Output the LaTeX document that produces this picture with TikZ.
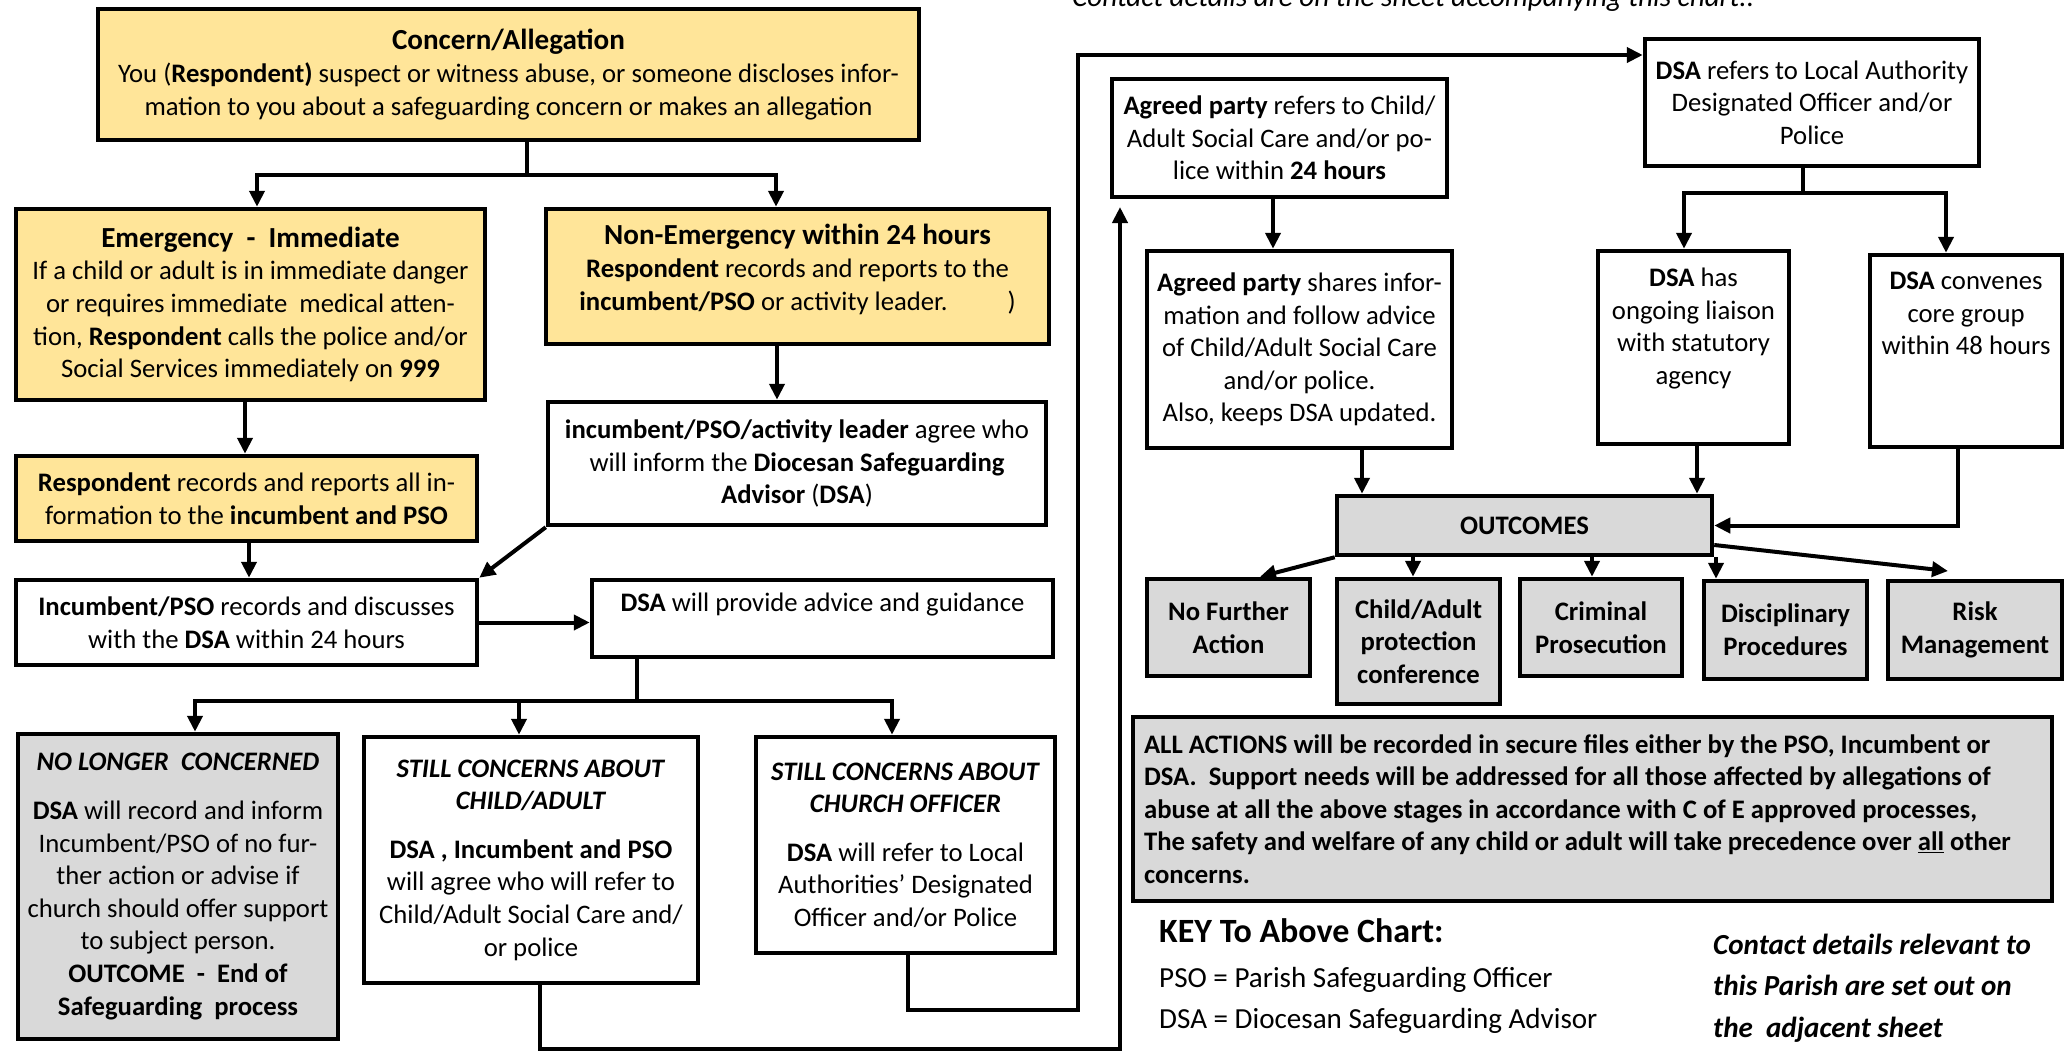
\documentclass[tikz,border=0pt]{standalone}
\usepackage{fontspec}
\setmainfont{Carlito}
\usetikzlibrary{arrows.meta}

\definecolor{concernyellow}{HTML}{FFE599}
\definecolor{outcomegrey}{HTML}{D9D9D9}

\newcommand{\bodysize}{\fontsize{26.7}{32.6}\selectfont}
\newcommand{\headsize}{\fontsize{29.1}{35.5}\selectfont}
\newcommand{\keysize}{\fontsize{34}{41}\selectfont}

\tikzset{
  chartbox/.style={draw, line width=4.5pt, align=center, inner sep=0pt, font=\bodysize},
  yellowbox/.style={chartbox, fill=concernyellow},
  whitebox/.style={chartbox, fill=white},
  greybox/.style={chartbox, fill=outcomegrey},
  resultbox/.style={greybox, font=\bodysize\bfseries},
  plainline/.style={line width=4pt},
  flow/.style={plainline, -{Triangle[width=15pt,length=16pt]}},
}

\begin{document}
\begin{tikzpicture}[x=1pt,y=-1pt]
\useasboundingbox (0,0) rectangle (2071,1053);

% left half
\node[yellowbox, minimum width=821pt, minimum height=131pt] (concern) at (508.5,74.5)
  {{\headsize\bfseries Concern/Allegation}\\
   You (\textbf{Respondent)} suspect or witness abuse, or someone discloses infor-\\
   mation to you about a safeguarding concern or makes an allegation};
\node[yellowbox, minimum width=469pt, minimum height=191pt] (emergency) at (250.5,304.5)
  {{\headsize\bfseries Emergency\ \ -\ \ Immediate}\\
   If a child or adult is in immediate danger\\
   or requires immediate\ \ medical atten-\\
   tion, \textbf{Respondent} calls the police and/or\\
   Social Services immediately on \textbf{999}};
\node[yellowbox, minimum width=503pt, minimum height=135pt] (nonemergency) at (797.5,276.5)
  {{\headsize\bfseries Non-Emergency within 24 hours}\\
   \textbf{Respondent} records and reports to the\\
   \textbf{incumbent/PSO} or activity leader.\hspace{60pt})\\[-24pt] \strut};
\node[yellowbox, minimum width=461pt, minimum height=85pt] (resprecords) at (246.5,498.5)
  {\textbf{Respondent} records and reports all in-\\
   formation to the \textbf{incumbent and PSO}};
\node[whitebox, minimum width=498pt, minimum height=123pt] (leader) at (797,463.5)
  {\textbf{incumbent/PSO/activity leader} agree who\\
   will inform the \textbf{Diocesan Safeguarding}\\
   \textbf{Advisor} (\textbf{DSA})};
\node[whitebox, minimum width=461pt, minimum height=85pt] (increcords) at (246.5,622.5)
  {\textbf{Incumbent/PSO} records and discusses\\
   with the \textbf{DSA} within 24 hours};
\node[whitebox, minimum width=461pt, minimum height=77pt] (advice) at (822.5,618.5)
  {\textbf{DSA} will provide advice and guidance\\[-10pt] \strut};

\node[greybox, minimum width=320pt, minimum height=305pt] (nolonger) at (178,886.5)
  {\textbf{\textit{NO LONGER\ \ CONCERNED}}\\[16pt]
   \textbf{DSA} will record and inform\\
   Incumbent/PSO of no fur-\\
   ther action or advise if\\
   church should offer support\\
   to subject person.\\
   \textbf{OUTCOME\ \ -\ \ End of}\\
   \textbf{Safeguarding\ \ process}};
\node[whitebox, minimum width=334pt, minimum height=246pt] (stillchild) at (531,860)
  {\textbf{\textit{STILL CONCERNS ABOUT}}\\
   \textbf{\textit{CHILD/ADULT}}\\[16pt]
   \textbf{DSA , Incumbent and PSO}\\
   will agree who will refer to\\
   Child/Adult Social Care and/\\
   or police};
\node[whitebox, minimum width=299pt, minimum height=216pt] (stillchurch) at (905.5,845)
  {\textbf{\textit{STILL CONCERNS ABOUT}}\\
   \textbf{\textit{CHURCH OFFICER}}\\[16pt]
   \textbf{DSA} will refer to Local\\
   Authorities’ Designated\\
   Officer and/or Police};

% right half
\node[anchor=base west, font=\headsize\itshape, inner sep=0pt] (topnote) at (1072,6)
  {Contact details are on the sheet accompanying this chart..};
\node[whitebox, minimum width=335pt, minimum height=118pt] (agreedrefers) at (1279.5,138)
  {\textbf{Agreed party} refers to Child/\\
   Adult Social Care and/or po-\\
   lice within \textbf{24 hours}};
\node[whitebox, minimum width=334pt, minimum height=127pt] (dsarefers) at (1812,102.5)
  {\textbf{DSA} refers to Local Authority\\
   Designated Officer and/or\\
   Police};
\node[whitebox, minimum width=305pt, minimum height=197pt] (agreedshares) at (1299.5,349.5)
  {\textbf{Agreed party} shares infor-\\
   mation and follow advice\\
   of Child/Adult Social Care\\
   and/or police.\\
   Also, keeps DSA updated.};
\node[whitebox, minimum width=191pt, minimum height=193pt] (dsahas) at (1693.5,347.5)
  {\textbf{DSA} has\\ ongoing liaison\\ with statutory\\ agency\\ \strut};
\node[whitebox, minimum width=192pt, minimum height=192pt] (dsaconvenes) at (1966,351)
  {\textbf{DSA} convenes\\ core group\\ within 48 hours\\ \strut\\ \strut};

\node[resultbox, minimum width=375pt, minimum height=59pt] (outcomes) at (1524.5,525.5) {OUTCOMES};
\node[resultbox, minimum width=163pt, minimum height=97pt] (nofurther) at (1228.5,627.5) {No Further\\ Action};
\node[resultbox, minimum width=163pt, minimum height=125pt] (protconf) at (1418.5,641.5) {Child/Adult\\ protection\\ conference};
\node[resultbox, minimum width=162pt, minimum height=97pt] (criminal) at (1601,627.5) {Criminal\\ Prosecution};
\node[resultbox, minimum width=163pt, minimum height=98pt] (discipline) at (1785.5,630) {Disciplinary\\ Procedures};
\node[resultbox, minimum width=174pt, minimum height=98pt] (riskmgmt) at (1975,630) {Risk\\ Management};

\node[greybox, align=left, font=\bodysize\bfseries, minimum width=919pt, minimum height=184pt] (allactions) at (1592.5,809)
  {ALL ACTIONS will be recorded in secure files either by the PSO, Incumbent or\\
   DSA.\ \ Support needs will be addressed for all those affected by allegations of\\
   abuse at all the above stages in accordance with C of E approved processes,\\
   The safety and welfare of any child or adult will take precedence over \underline{all} other\rule{30pt}{0pt}\\
   concerns.};

\node[anchor=west, font=\keysize\bfseries, inner sep=0pt] (keytitle) at (1159,931) {KEY To Above Chart:};
\node[anchor=west, font=\headsize, inner sep=0pt] (keypso) at (1159,980) {PSO = Parish Safeguarding Officer};
\node[anchor=west, font=\headsize, inner sep=0pt] (keydsa) at (1159,1021) {DSA = Diocesan Safeguarding Advisor};
\node[anchor=west, align=left, font=\fontsize{29.1}{41.5}\selectfont\bfseries\itshape, inner sep=0pt] (contact) at (1713,988)
  {Contact details relevant to\\ this Parish are set out on\\ the\ \ adjacent sheet};

% connectors, left
\coordinate (forktop) at (527,175);
\draw[plainline] (forktop |- concern.south) -- (forktop);
\draw[flow] (forktop) -| (257,0 |- emergency.north);
\draw[flow] (forktop) -| (776,0 |- nonemergency.north);
\draw[flow] (245,0 |- emergency.south) -- (245,0 |- resprecords.north);
\draw[flow] (249,0 |- resprecords.south) -- (249,0 |- increcords.north);
\draw[flow] (777,0 |- nonemergency.south) -- (777,0 |- leader.north);
\draw[flow] (leader.south west) -- (increcords.north east);
\draw[flow] (increcords.east) -- (increcords.east -| advice.west);

\coordinate (forkmid) at (637,701);
\draw[plainline] (forkmid |- advice.south) -- (forkmid);
\draw[flow] (forkmid) -| (195,0 |- nolonger.north);
\draw[flow] (forkmid) -| (519,0 |- stillchild.north);
\draw[flow] (forkmid) -| (892,0 |- stillchurch.north);

% long returns to the right half
\coordinate (childturn) at (540,1049);
\coordinate (childup) at (1120,1049);
\coordinate (childtip) at (1120,207);
\draw[flow] (childturn |- stillchild.south) -- (childturn) -- (childup) -- (childtip);
\coordinate (churchturn) at (908,1010);
\coordinate (churchup) at (1078,1010);
\coordinate (churchtop) at (1078,55);
\draw[flow] (churchturn |- stillchurch.south) -- (churchturn) -- (churchup) -- (churchtop) -- (churchtop -| dsarefers.west);

% connectors, right
\draw[flow] (1273,0 |- agreedrefers.south) -- (1273,0 |- agreedshares.north);
\coordinate (forkdsa) at (1803,193);
\draw[plainline] (forkdsa |- dsarefers.south) -- (forkdsa);
\draw[flow] (forkdsa) -| (1684,0 |- dsahas.north);
\draw[flow] (forkdsa) -| (1946,0 |- dsaconvenes.north);
\draw[flow] (1362,0 |- agreedshares.south) -- (1362,0 |- outcomes.north);
\draw[flow] (1697,0 |- dsahas.south) -- (1697,0 |- outcomes.north);
\draw[flow] (1958,0 |- dsaconvenes.south) |- (outcomes.east);

\coordinate (risktip) at (1948,571);
\draw[flow] (outcomes.south west) -- (1260,0 |- nofurther.north);
\draw[flow] (1413,0 |- outcomes.south) -- (1413,0 |- protconf.north);
\draw[flow] (1592,0 |- outcomes.south) -- (1592,0 |- criminal.north);
\draw[flow] (1716,0 |- outcomes.south) -- (1716,0 |- discipline.north);
\draw[flow] (outcomes.east |- 0,545) -- (risktip);
\end{tikzpicture}
\end{document}
